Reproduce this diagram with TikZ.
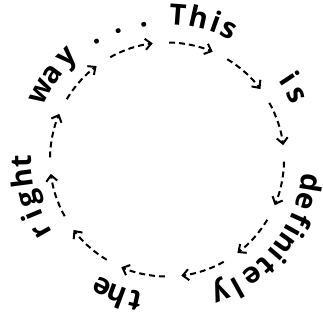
\documentclass[tikz,border=0pt]{standalone}
\usepackage{fontspec}
\setmainfont{Open Sans}
\usetikzlibrary{arrows.meta}

\begin{document}
\begin{tikzpicture}[x=1pt, y=1pt, >={Straight Barb[length=6pt, width=11pt]},
		letter/.style={anchor=base, inner sep=0pt, font=\fontsize{29}{29}\selectfont\bfseries},
		loop arrow/.style={->, dash pattern=on 6pt off 4pt, line width=2pt}]
		\useasboundingbox (-167,-161.5) rectangle (156,159.5);
		% words round the circle
		\node[letter, rotate=-4.3] (This_T) at (85.7:135) {T};
		\node[letter, rotate=-12.7] (This_h) at (77.3:135) {h};
		\node[letter, rotate=-19.6] (This_i) at (70.4:135) {i};
		\node[letter, rotate=-25.3] (This_s) at (64.7:135) {s};
		\node[letter, rotate=-56.6] (is_i) at (33.4:136) {i};
		\node[letter, rotate=-63.4] (is_s) at (26.6:136) {s};
		\node[letter, rotate=-99.4] (def_d) at (-9.4:136) {d};
		\node[letter, rotate=-106.6] (def_e) at (-16.6:136) {e};
		\node[letter, rotate=-114.3] (def_f) at (-24.3:136) {f};
		\node[letter, rotate=-119.4] (def_i) at (-29.4:136) {i};
		\node[letter, rotate=-125.6] (def_n) at (-35.6:136) {n};
		\node[letter, rotate=-130.8] (def_ii) at (-40.8:136) {i};
		\node[letter, rotate=-136.7] (def_t) at (-46.7:136) {t};
		\node[letter, rotate=-143.4] (def_ee) at (-53.4:136) {e};
		\node[letter, rotate=-151] (def_l) at (-61:136) {l};
		\node[letter, rotate=-158] (def_y) at (-68:136) {y};
		\node[letter, rotate=-192.6] (the_t) at (-102.6:135) {t};
		\node[letter, rotate=-200.5] (the_h) at (-110.5:135) {h};
		\node[letter, rotate=-207] (the_e) at (-117:135) {e};
		\node[letter, rotate=-240.4] (right_r) at (-150.4:136) {r};
		\node[letter, rotate=-247.5] (right_i) at (-157.5:136) {i};
		\node[letter, rotate=-254.3] (right_g) at (-164.3:136) {g};
		\node[letter, rotate=-262.5] (right_h) at (-172.5:136) {h};
		\node[letter, rotate=-269.2] (right_t) at (-179.2:136) {t};
		\node[letter, rotate=61.9] (way_w) at (151.9:135) {w};
		\node[letter, rotate=53.5] (way_a) at (143.5:135) {a};
		\node[letter, rotate=44.4] (way_y) at (134.4:135) {y};
		\node[letter, rotate=30.7] (dot_a) at (120.7:135) {.};
		\node[letter, rotate=20.6] (dot_b) at (110.6:135) {.};
		\node[letter, rotate=9.7] (dot_c) at (99.7:135) {.};
		% dashed arrows
		\coordinate (arc_a) at (119:117);
		\coordinate (arc_b) at (89:117);
		\coordinate (arc_c) at (59:117);
		\coordinate (arc_d) at (29:117);
		\coordinate (arc_e) at (-1:117);
		\coordinate (arc_f) at (-31:117);
		\coordinate (arc_g) at (-61:117);
		\coordinate (arc_h) at (-91:117);
		\coordinate (arc_i) at (-121:117);
		\coordinate (arc_j) at (-151:117);
		\coordinate (arc_k) at (-181:117);
		\coordinate (arc_l) at (-211:117);
		\draw[loop arrow] (arc_a) arc[start angle=119, end angle=97, radius=117];
		\draw[loop arrow] (arc_b) arc[start angle=89, end angle=67, radius=117];
		\draw[loop arrow] (arc_c) arc[start angle=59, end angle=37, radius=117];
		\draw[loop arrow] (arc_d) arc[start angle=29, end angle=7, radius=117];
		\draw[loop arrow] (arc_e) arc[start angle=-1, end angle=-23, radius=117];
		\draw[loop arrow] (arc_f) arc[start angle=-31, end angle=-53, radius=117];
		\draw[loop arrow] (arc_g) arc[start angle=-61, end angle=-83, radius=117];
		\draw[loop arrow] (arc_h) arc[start angle=-91, end angle=-113, radius=117];
		\draw[loop arrow] (arc_i) arc[start angle=-121, end angle=-143, radius=117];
		\draw[loop arrow] (arc_j) arc[start angle=-151, end angle=-173, radius=117];
		\draw[loop arrow] (arc_k) arc[start angle=-181, end angle=-203, radius=117];
		\draw[loop arrow] (arc_l) arc[start angle=-211, end angle=-233, radius=117];
	\end{tikzpicture}
\end{document}
